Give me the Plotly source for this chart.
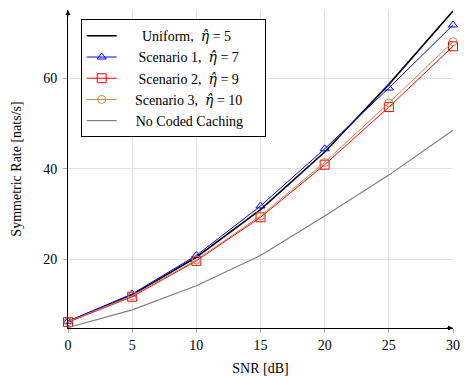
import plotly.graph_objects as go

snr = [0, 5, 10, 15, 20, 25, 30]
uniform = [6.3, 12.2, 20.5, 31.0, 43.7, 58.6, 74.8]
scenario1 = [6.4, 12.4, 20.9, 31.8, 44.4, 57.8, 71.7]
scenario2 = [6.2, 11.8, 19.7, 29.3, 40.9, 53.6, 67.0]
scenario3 = [6.3, 12.0, 19.9, 29.6, 41.4, 54.5, 68.0]
no_coded = [5.0, 8.9, 14.2, 20.9, 29.6, 38.6, 48.5]

x_ticks = [0, 5, 10, 15, 20, 25, 30]
y_ticks = [20, 40, 60]

FONT = "'Liberation Serif', 'Times New Roman', 'DejaVu Serif', serif"
ETA = "<span style=\"font-family:'DejaVu Serif'\"><i>η̂</i></span>"
EN, FPE, TH = "\u2002", "\u2005", "\u2009"
EQ = f"{FPE}={FPE}"

names = [
    f"{EN}{EN}{FPE}{TH}Uniform,{EN}{ETA}{EQ}5",
    f"{EN}{FPE}{FPE}{TH}Scenario 1,{EN}{ETA}{EQ}7",
    f"{EN}{FPE}{FPE}{TH}Scenario 2,{EN}{ETA}{EQ}9",
    f"{EN}{FPE}{TH}Scenario 3,{EN}{ETA}{EQ}10{EN}{EN}{TH}",
    f"{EN}{EN}No Coded Caching",
]

fig = go.Figure()
fig.add_trace(go.Scatter(x=snr, y=uniform, mode="lines", name=names[0],
                         line=dict(color="black", width=1.6)))
fig.add_trace(go.Scatter(x=snr, y=scenario1, mode="lines+markers", name=names[1], cliponaxis=False,
                         line=dict(color="#0000ff", width=1),
                         marker=dict(symbol="triangle-up-open", size=8, color="#0000ff", line=dict(width=1))))
fig.add_trace(go.Scatter(x=snr, y=scenario2, mode="lines+markers", name=names[2], cliponaxis=False,
                         line=dict(color="#ff0000", width=1),
                         marker=dict(symbol="square-open", size=9, color="#ff0000", line=dict(width=1))))
fig.add_trace(go.Scatter(x=snr, y=scenario3, mode="lines+markers", name=names[3], cliponaxis=False,
                         line=dict(color="#c8864a", width=1),
                         marker=dict(symbol="circle-open", size=8, color="#c8864a", line=dict(width=1))))
fig.add_trace(go.Scatter(x=snr, y=no_coded, mode="lines", name=names[4],
                         line=dict(color="#808080", width=1.2)))

fig.update_layout(
    width=464, height=376,
    margin=dict(l=68, r=11, t=10, b=48, autoexpand=False),
    paper_bgcolor="white", plot_bgcolor="white",
    font=dict(family=FONT, size=14, color="black"),
    showlegend=True,
    legend=dict(x=0.033, y=0.971, xanchor="left", yanchor="top",
                bgcolor="white", bordercolor="black", borderwidth=1,
                font=dict(family=FONT, size=14), itemwidth=30),
    xaxis=dict(range=[0, 30], tickvals=x_ticks, showgrid=True, gridcolor="#e0e0e0", gridwidth=1,
               showline=True, linecolor="black", linewidth=1, zeroline=False, automargin=False,
               ticks="outside", ticklen=4, tickcolor="#aaaaaa",
               title=dict(text="SNR [dB]", standoff=11, font=dict(family=FONT, size=14)),
               tickfont=dict(family=FONT, size=14)),
    yaxis=dict(range=[4.9, 75], tickvals=y_ticks, showgrid=True, gridcolor="#e0e0e0", gridwidth=1,
               showline=True, linecolor="black", linewidth=1, zeroline=False, automargin=False,
               ticks="outside", ticklen=4, tickcolor="#aaaaaa", ticklabelstandoff=3,
               title=dict(text="Symmetric Rate [nats/s]", standoff=18, font=dict(family=FONT, size=14)),
               tickfont=dict(family=FONT, size=14)),
)

# axis arrows
fig.add_annotation(xref="x domain", yref="y domain", x=1.0, y=0, ax=-8, ay=0,
                   showarrow=True, arrowhead=2, arrowsize=1, arrowwidth=1, arrowcolor="black", text="")
fig.add_annotation(xref="x domain", yref="y domain", x=0, y=1.0, ax=0, ay=8,
                   showarrow=True, arrowhead=2, arrowsize=1, arrowwidth=1, arrowcolor="black", text="")

fig.write_html("out.html", config={"displayModeBar": False},
               post_script="document.body.style.margin='0';document.body.style.overflow='hidden';")
